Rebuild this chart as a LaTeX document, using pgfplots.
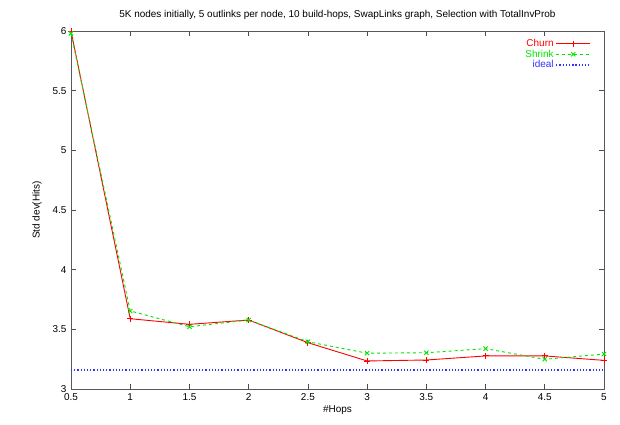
\documentclass[border=0pt]{standalone}
\usepackage{fontspec}
\setmainfont{Liberation Sans}
\usepackage{pgfplots}
\pgfplotsset{compat=1.18}
\definecolor{gpred}{RGB}{255,0,0}
\definecolor{gpgreen}{RGB}{0,230,0}
\definecolor{gpblue}{RGB}{50,50,255}
\newfontfamily\redfont[Color=FF0000]{Liberation Sans}
\newfontfamily\greenfont[Color=00E600]{Liberation Sans}
\newfontfamily\bluefont[Color=3232FF]{Liberation Sans}
\begin{document}
\begin{tikzpicture}
\useasboundingbox (-71bp,-36bp) rectangle (549bp,389bp);
\begin{axis}[
  at={(0,0)}, anchor=south west,
  scale only axis, width=533bp, height=358bp,
  xmin=0.5, xmax=5, ymin=3, ymax=6,
  xtick={0.5,1,...,5}, ytick={3,3.5,...,6},
  tick align=inside, major tick length=5bp,
  axis line style={draw=black!65, line width=0.8bp},
  tick style={black!70, line width=0.6bp},
  /pgf/number format/assume math mode=true,
  /pgf/number format/fixed,
  tick label style={font=\fontsize{10}{12}\selectfont},
  xticklabel style={yshift=-1bp},
  yticklabel style={xshift=-1bp},
  label style={font=\fontsize{10}{12}\selectfont},
  xlabel={\#Hops}, ylabel={Std dev(Hits)},
  xlabel style={yshift=2bp},
  ylabel style={yshift=4bp},
  title={5K nodes initially, 5 outlinks per node, 10 build-hops, SwapLinks graph, Selection with TotalInvProb},
  title style={font=\fontsize{10}{12}\selectfont, yshift=2bp},
  legend style={at={(1,1)}, anchor=north east, xshift=-10bp, yshift=-4bp,
    draw=none, fill=none, font=\fontsize{10}{11}\selectfont, row sep=-2bp},
  legend plot pos=right, legend cell align=right,
  legend image code/.code={\draw[mark repeat=2,mark phase=2,#1] plot coordinates {(0bp,0bp)(17bp,0bp)(34bp,0bp)};},
]
\addplot[color=gpred, line width=0.9bp, mark=+, mark size=3bp, mark options={solid}] coordinates {
(0.5,6.0) (1,3.589) (1.5,3.542) (2,3.578) (2.5,3.388) (3,3.235) (3.5,3.243) (4,3.277) (4.5,3.277) (5,3.240)};
\addlegendentry{\redfont Churn}
\addplot[color=gpgreen, line width=0.9bp, dashed, mark=x, mark size=3bp, mark options={solid}] coordinates {
(0.5,5.98) (1,3.654) (1.5,3.522) (2,3.578) (2.5,3.396) (3,3.300) (3.5,3.304) (4,3.338) (4.5,3.249) (5,3.293)};
\addlegendentry{\greenfont Shrink}
\addplot[color=gpblue, line width=1.2bp, dash pattern=on 1.2bp off 2bp] coordinates {(0.5,3.16) (5,3.16)};
\addlegendentry{\bluefont ideal}
\end{axis}
\end{tikzpicture}
\end{document}
